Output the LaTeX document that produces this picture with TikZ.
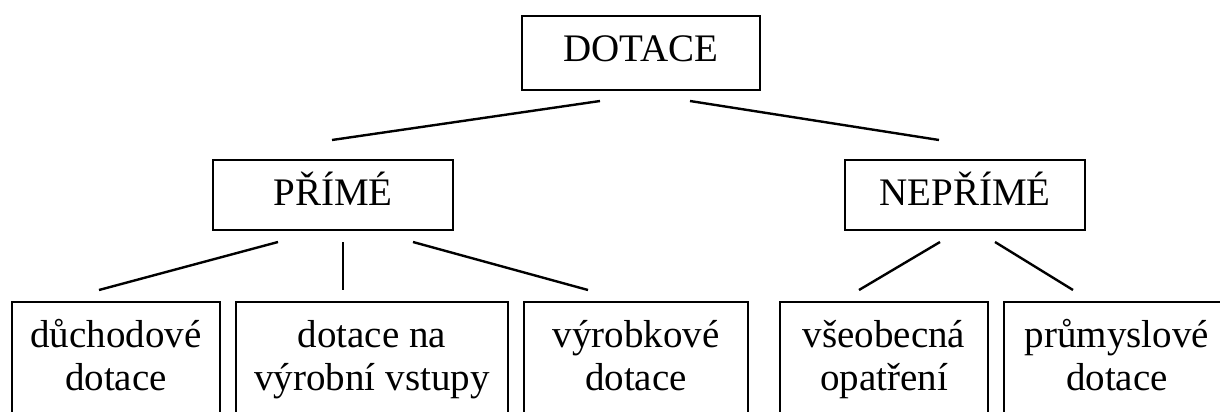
\documentclass[tikz,border=0pt]{standalone}
\usepackage{fontspec}
\setmainfont{Liberation Serif}
\usetikzlibrary{calc}
\begin{document}
\begin{tikzpicture}[x=0.5pt,y=-0.5pt,
  every node/.style={font=\fontsize{19.5}{21.5}\selectfont, inner sep=0pt, outer sep=0pt},
  box/.style={draw, line width=1.2pt, align=center},
  topbox/.style={box, minimum height=35pt, minimum width=120pt},
  leafbox/.style={box, anchor=north, inner xsep=0pt, inner ysep=7.45pt},
  link/.style={line width=1.2pt}]
\useasboundingbox (0,0) rectangle (1220,412);
\clip (0,0) rectangle (1220,412);
\node[box, minimum width=119pt, minimum height=37pt] (dot) at (641,53) {\strut DOTACE};
\node[topbox] (pri) at (333,195) {\strut PŘÍMÉ};
\node[topbox] (nep) at (965,195) {\strut NEPŘÍMÉ};
\node[leafbox, minimum width=104pt] (b1) at (116,302) {\strut důchodové\\\strut dotace};
\node[leafbox, minimum width=136pt] (b2) at (372,302) {\strut dotace na\\\strut výrobní vstupy};
\node[leafbox, minimum width=112pt] (b3) at (636,302) {\strut výrobkové\\\strut dotace};
\node[leafbox, minimum width=104pt] (b4) at (884,302) {\strut všeobecná\\\strut opatření};
\node[leafbox, minimum width=113pt] (b5) at (1117,302) {\strut průmyslové\\\strut dotace};
\draw[link] ($(dot.south)+(-41,11)$) -- ($(pri.north)+(-1,-20)$);
\draw[link] ($(dot.south)+(49,11)$) -- ($(nep.north)+(-26,-20)$);
\draw[link] ($(pri.south)+(-55,12)$) -- ($(b1.north)+(-17,-12)$);
\draw[link] ($(pri.south)+(10,12)$) -- ($(b2.north)+(-29,-12)$);
\draw[link] ($(pri.south)+(80,12)$) -- ($(b3.north)+(-48,-12)$);
\draw[link] ($(nep.south)+(-25,12)$) -- ($(b4.north)+(-25,-12)$);
\draw[link] ($(nep.south)+(30,12)$) -- ($(b5.north)+(-44,-12)$);
\end{tikzpicture}
\end{document}
